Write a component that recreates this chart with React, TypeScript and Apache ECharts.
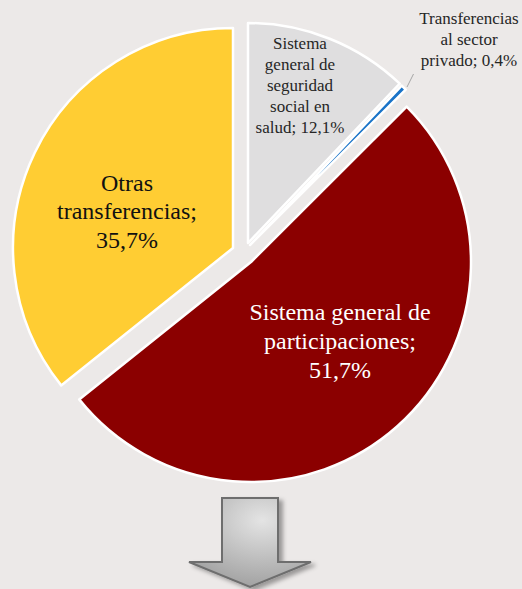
import React, { useEffect, useRef } from "react";
import * as echarts from "echarts";

// ---- data ----
const categories = [
  "Sistema general de seguridad social en salud",
  "Transferencias al sector privado",
  "Sistema general de participaciones",
  "Otras transferencias",
];
const categoryLabels = [
  "Sistema\ngeneral de\nseguridad\nsocial en\nsalud",
  "Transferencias\nal sector\nprivado",
  "Sistema general de\nparticipaciones",
  "Otras\ntransferencias",
];
const values = [12.1, 0.4, 51.7, 35.7];

// ---- styling / layout ----
const colors = ["#dfdedf", "#1a74c8", "#8b0000", "#ffcd33"];
const sliceCenters = [
  [248, 243],
  [250, 245],
  [251, 262],
  [233, 248],
];
const labelStyles = [
  { x: 300, y: 85, size: 17, lh: 21, sep: "; ", color: "#262626" },
  { x: 469, y: 39, size: 17, lh: 21, sep: "; ", color: "#262626" },
  { x: 340, y: 341, size: 24, lh: 29, sep: ";\n", color: "#ffffff" },
  { x: 127, y: 211, size: 24, lh: 28.5, sep: ";\n", color: "#111111" },
];

const fmt = (v: number) => v.toFixed(1).replace(".", ",") + "%";

export default function App() {
  const ref = useRef<HTMLDivElement>(null);
  useEffect(() => {
    if (!ref.current) return;
    const chart = echarts.init(ref.current, undefined, { renderer: "svg" });

    const series = categories.map((_, si) => ({
      type: "pie",
      silent: true,
      startAngle: 90,
      clockwise: true,
      radius: 220,
      center: sliceCenters[si],
      avoidLabelOverlap: false,
      label: { show: false },
      labelLine: { show: false },
      emphasis: { disabled: true },
      data: categories.map((name, i) => ({
        name,
        value: values[i],
        itemStyle:
          i === si
            ? { color: colors[i], borderColor: "#ffffff", borderWidth: 2.5 }
            : { color: "rgba(0,0,0,0)", borderWidth: 0 },
      })),
    }));

    const texts = categories.map((_, i) => {
      const s = labelStyles[i];
      return {
        type: "text",
        x: s.x,
        y: s.y,
        silent: true,
        z: 100,
        style: {
          text: categoryLabels[i] + s.sep + fmt(values[i]),
          fill: s.color,
          fontFamily: "Liberation Serif",
          fontSize: s.size,
          lineHeight: s.lh,
          align: "center",
          verticalAlign: "middle",
        },
      };
    });

    chart.setOption({
      animation: false,
      backgroundColor: "#ece9e8",
      series,
      graphic: [
        ...texts,
        {
          type: "line",
          silent: true,
          shape: { x1: 407, y1: 87, x2: 413.5, y2: 74 },
          style: { stroke: "#a6a6a6", lineWidth: 1 },
        },
        {
          type: "polygon",
          silent: true,
          shape: {
            points: [
              [222, 498],
              [278, 498],
              [278, 562],
              [311, 562],
              [250, 587],
              [189, 562],
              [222, 562],
            ],
          },
          style: {
            fill: {
              type: "radial",
              x: 0.6,
              y: 0.25,
              r: 0.8,
              colorStops: [
                { offset: 0, color: "#e4e4e4" },
                { offset: 1, color: "#9e9e9e" },
              ],
            },
            stroke: "#6e6e6e",
            lineWidth: 2,
            shadowBlur: 4,
            shadowOffsetX: 4,
            shadowOffsetY: 3,
            shadowColor: "rgba(0,0,0,0.35)",
          },
        },
      ],
    });
    return () => chart.dispose();
  }, []);
  return (
    <div
      ref={ref}
      style={{ position: "fixed", left: 0, top: 0, width: 522, height: 589 }}
    />
  );
}
